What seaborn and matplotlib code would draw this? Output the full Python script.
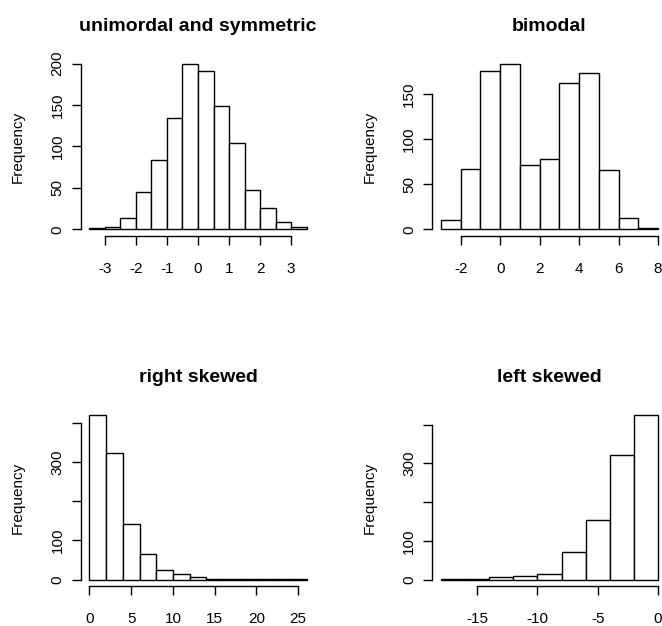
import numpy as np
import pandas as pd
import matplotlib
matplotlib.use("Agg")
import matplotlib.pyplot as plt
import seaborn as sns

# ---- data (bin edges and counts) ----
sym_edges = [-3.5, -3.0, -2.5, -2.0, -1.5, -1.0, -0.5, 0.0, 0.5, 1.0, 1.5, 2.0, 2.5, 3.0, 3.5]
sym_counts = [1, 3, 14, 45, 84, 134, 199, 191, 149, 104, 48, 26, 9, 3]

bi_edges = [-3, -2, -1, 0, 1, 2, 3, 4, 5, 6, 7, 8]
bi_counts = [10, 67, 176, 183, 71, 78, 162, 174, 66, 13, 1]

right_edges = [0, 2, 4, 6, 8, 10, 12, 14, 16, 18, 20, 22, 24, 26]
right_counts = [419, 322, 143, 65, 26, 14, 7, 3, 1, 1, 1, 1, 1]

left_edges = [-18, -16, -14, -12, -10, -8, -6, -4, -2, 0]
left_counts = [1, 1, 6, 10, 16, 72, 153, 321, 424]

titles = ["unimordal and symmetric", "bimodal", "right skewed", "left skewed"]

sym_xticks = [-3, -2, -1, 0, 1, 2, 3]
bi_xticks = [-2, 0, 2, 4, 6, 8]
right_xticks = [0, 5, 10, 15, 20, 25]
left_xticks = [-15, -10, -5, 0]

sym_yticks = [0, 50, 100, 150, 200]
sym_ylabels = ["0", "50", "100", "150", "200"]
bi_yticks = [0, 50, 100, 150]
bi_ylabels = ["0", "50", "100", "150"]
right_yticks = [0, 100, 200, 300, 400]
right_ylabels = ["0", "100", "", "300", ""]
left_yticks = [0, 100, 200, 300, 400]
left_ylabels = ["0", "100", "", "300", ""]

# ---- style ----
sns.set_style("white")
plt.rcParams["font.family"] = ["Liberation Sans", "DejaVu Sans"]

W, H = 662, 626
fig = plt.figure(figsize=(W / 100, H / 100), dpi=100)

# axes boxes in pixels: (left, top, width, height)
boxes = [
    (80.8, 57.9, 234.4, 178.0),
    (432.3, 57.9, 234.4, 178.0),
    (80.8, 408.7, 234.4, 177.6),
    (432.3, 408.7, 234.4, 177.6),
]

panels = [
    (sym_edges, sym_counts, sym_xticks, sym_yticks, sym_ylabels),
    (bi_edges, bi_counts, bi_xticks, bi_yticks, bi_ylabels),
    (right_edges, right_counts, right_xticks, right_yticks, right_ylabels),
    (left_edges, left_counts, left_xticks, left_yticks, left_ylabels),
]

for (l, t, w, h), (edges, counts, xt, yt, yl), title in zip(boxes, panels, titles):
    ax = fig.add_axes([l / W, (H - t - h) / H, w / W, h / H])
    edges_a = np.asarray(edges, dtype=float)
    df = pd.DataFrame({"value": (edges_a[:-1] + edges_a[1:]) / 2,
                       "count": np.asarray(counts, dtype=float)})
    sns.histplot(data=df, x="value", weights="count", bins=list(edges_a), ax=ax,
                 color="white", edgecolor="black", linewidth=1.0, alpha=1.0)
    # R-like 4% axis extension
    xr = edges_a[-1] - edges_a[0]
    ax.set_xlim(edges_a[0] - 0.04 * xr, edges_a[-1] + 0.04 * xr)
    ymax = max(counts)
    ax.set_ylim(-0.04 * ymax, ymax * 1.04)
    ax.set_xticks(xt)
    ax.set_xticklabels([str(v) for v in xt])
    ax.set_yticks(yt)
    ax.set_yticklabels(yl, rotation=90, va="center")
    for s in ["top", "right"]:
        ax.spines[s].set_visible(False)
    ax.spines["left"].set_bounds(yt[0], yt[-1])
    ax.spines["bottom"].set_bounds(xt[0], xt[-1])
    for s in ["left", "bottom"]:
        ax.spines[s].set_linewidth(1.0)
        ax.spines[s].set_color("black")
    ax.tick_params(axis="both", which="major", direction="out", length=6.7, width=1.0,
                   color="black", labelsize=11, labelcolor="black",
                   bottom=True, left=True, top=False, right=False)
    ax.tick_params(axis="x", pad=12)
    ax.tick_params(axis="y", pad=5)
    ax.set_xlabel("")
    ax.set_ylabel("Frequency", fontsize=11, color="black")
    ax.yaxis.set_label_coords(-62.7 / w, 0.5)
    ax.yaxis.label.set_va("center")
    ax.set_title(title, fontsize=14, fontweight="bold", pad=19.5, color="black")
    ax.set_facecolor("white")
    ax.grid(False)

fig.savefig("out.png", dpi=100, facecolor="white")
